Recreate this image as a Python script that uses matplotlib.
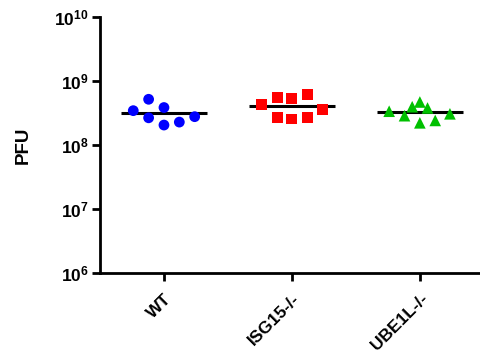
import matplotlib
matplotlib.use("Agg")
import matplotlib.pyplot as plt
import numpy as np

plt.rcParams['font.family'] = ['Liberation Sans', 'DejaVu Sans']
plt.rcParams['mathtext.fontset'] = 'custom'
plt.rcParams['mathtext.rm'] = 'Liberation Sans:bold'
plt.rcParams['mathtext.bf'] = 'Liberation Sans:bold'
plt.rcParams['mathtext.it'] = 'Liberation Sans:bold'

categories = ["WT", "ISG15-/-", "UBE1L-/-"]
wt_values = [3.44e8, 5.18e8, 2.66e8, 3.85e8, 2.05e8, 2.28e8, 2.77e8]
isg15_values = [4.27e8, 5.56e8, 2.67e8, 5.28e8, 2.55e8, 6.11e8, 2.71e8, 3.61e8]
ube1l_values = [3.37e8, 2.87e8, 3.96e8, 4.70e8, 3.79e8, 2.22e8, 2.42e8, 3.07e8]
ytick_values = [1e6, 1e7, 1e8, 1e9, 1e10]
ytick_labels = [r'$10^{6}$', r'$10^{7}$', r'$10^{8}$', r'$10^{9}$', r'$10^{10}$']

# horizontal scatter offsets (layout only)
wt_offsets = [-0.24, -0.12, -0.12, 0.0, 0.0, 0.12, 0.24]
isg_offsets = [-0.235, -0.115, -0.115, 0.0, 0.0, 0.12, 0.12, 0.24]
ube_offsets = [-0.24, -0.12, -0.06, 0.0, 0.06, 0.0, 0.12, 0.235]

groups = [
    (wt_values, wt_offsets, 'o', '#0000ff', 60),
    (isg15_values, isg_offsets, 's', '#ff0000', 62),
    (ube1l_values, ube_offsets, '^', '#00c000', 70),
]

fig = plt.figure(figsize=(4.81, 3.63), dpi=100)
ax = fig.add_axes([100/481, 1-273/363, 380/481, 256/363])

for i, (vals, offs, mk, col, s) in enumerate(groups):
    xs = i + np.array(offs)
    ax.scatter(xs, vals, marker=mk, s=s, color=col, edgecolors='none', zorder=3)
    mean = np.mean(vals)
    ax.plot([i - 0.335, i + 0.335], [mean, mean], color='black', lw=2.2, zorder=2,
            solid_capstyle='butt')

ax.set_yscale('log')
ax.set_ylim(1e6, 1e10)
ax.set_xlim(-0.5, 2.47)
ax.set_yticks(ytick_values)
ax.set_yticklabels(ytick_labels)
ax.yaxis.set_minor_locator(matplotlib.ticker.NullLocator())
ax.set_xticks(range(len(categories)))
ax.set_xticklabels(categories, rotation=45, ha='right', rotation_mode='anchor',
                   fontsize=12.5, fontweight='bold')
for lab in ax.get_yticklabels():
    lab.set_fontsize(12.5)

ax.spines['top'].set_visible(False)
ax.spines['right'].set_visible(False)
ax.spines['left'].set_linewidth(2)
ax.spines['bottom'].set_linewidth(2)
ax.tick_params(axis='both', direction='out', width=2, length=6, colors='black')
ax.tick_params(axis='y', pad=2)
ax.tick_params(axis='x', pad=7)

ax.set_ylabel('PFU', fontsize=13.5, fontweight='bold', labelpad=16)

fig.savefig('out.png', dpi=100)
